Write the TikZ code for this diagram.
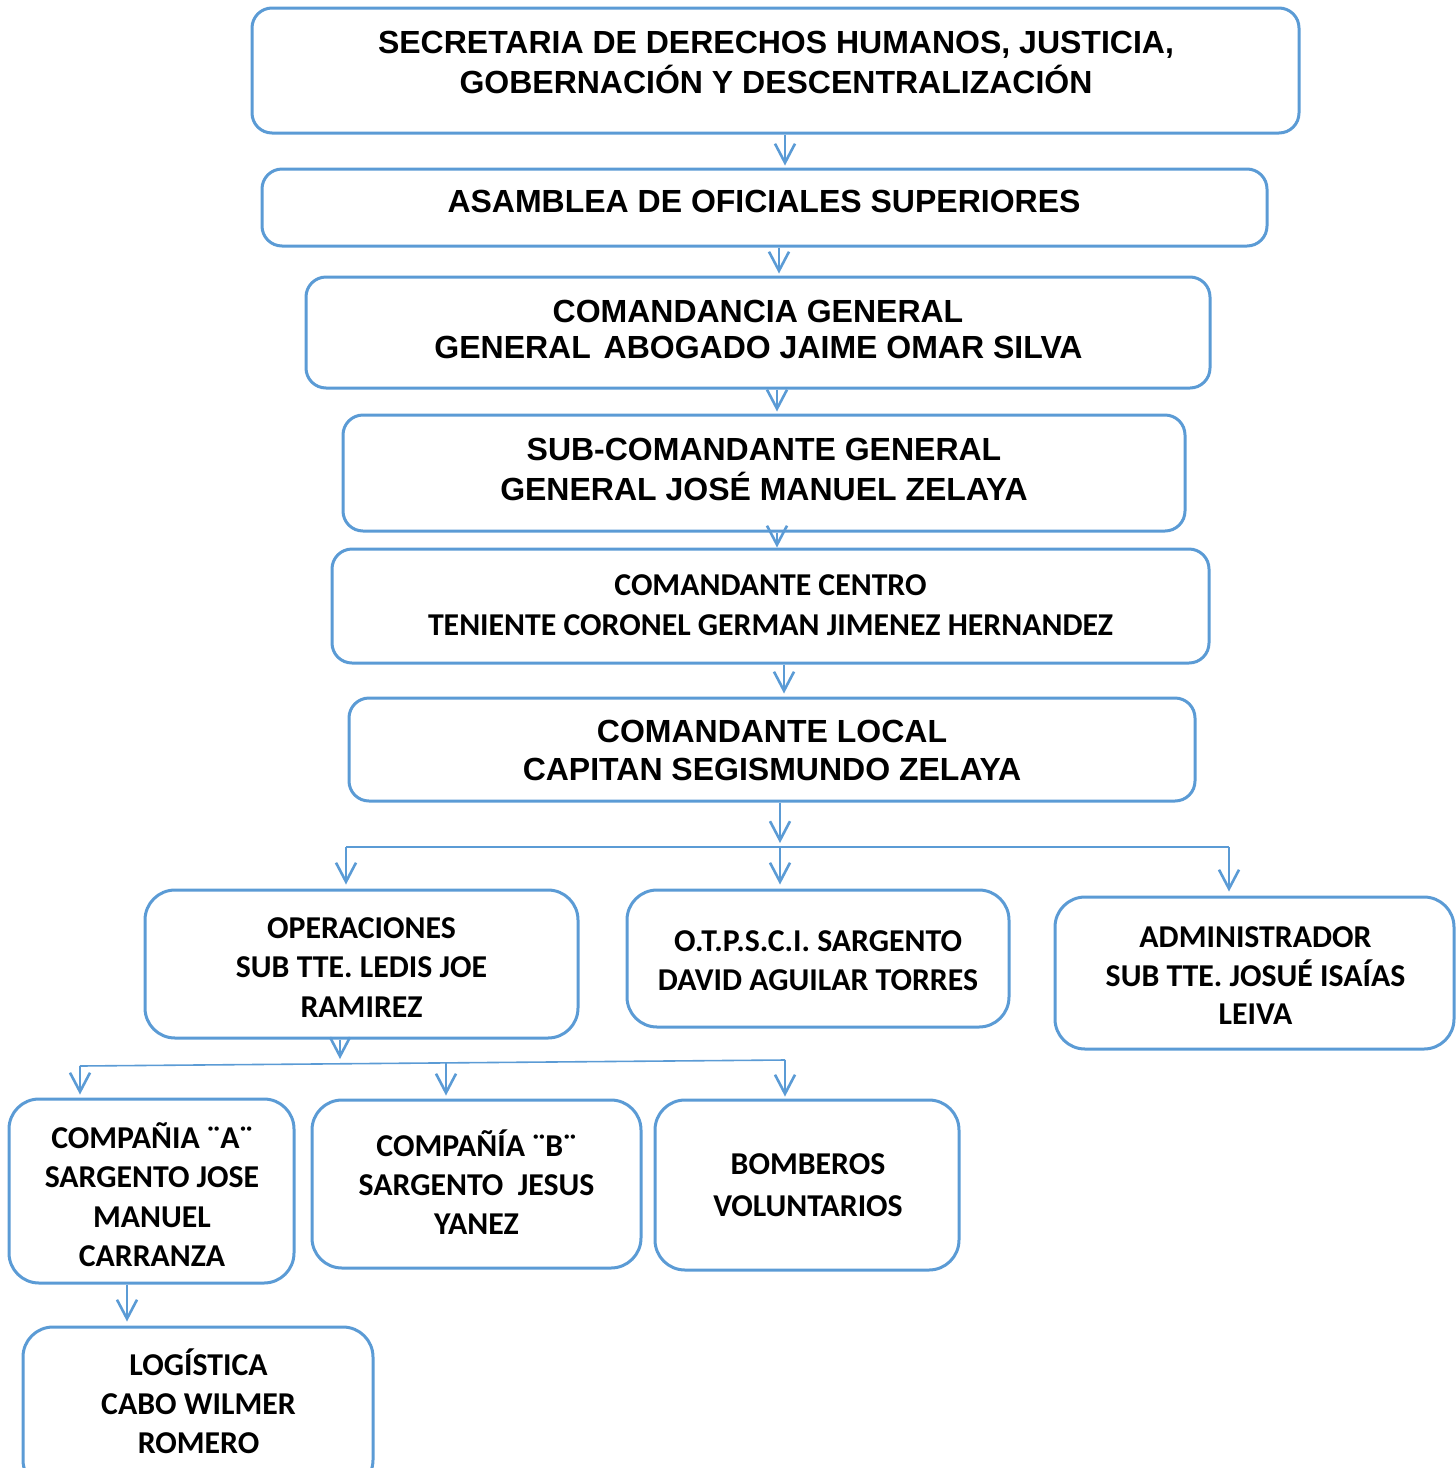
\documentclass[tikz,border=0pt]{standalone}
\usepackage{fontspec}
\setmainfont{Liberation Sans}
\newfontfamily\calfont{Carlito}
\usetikzlibrary{arrows.meta}
\definecolor{bl}{RGB}{91,155,213}
\begin{document}
\begin{tikzpicture}[x=1pt,y=-1pt,
 bx/.style={draw=bl, line width=3pt, rounded corners=20pt, inner sep=0pt, fill=white},
 sb/.style={bx, rounded corners=30pt},
 ar/.style={draw=bl, line width=2.6pt, -{Straight Barb[length=19pt,width=20pt]}},
 hl/.style={draw=bl, line width=1.6pt},
 ta/.style={font=\fontsize{32}{38}\bfseries\selectfont, anchor=base, inner sep=0pt},
 tc/.style={font=\calfont\fontsize{31.8}{38}\bfseries\selectfont, anchor=base, inner sep=0pt}]
\useasboundingbox (0,0) rectangle (1456,1468);
% boxes
\node[bx, minimum width=1047pt, minimum height=125pt] (s1) at (775.5,70.5) {};
\node[bx, minimum width=1005pt, minimum height=77pt] (s2) at (764.5,207.5) {};
\node[bx, minimum width=904pt, minimum height=111pt] (s3) at (758,332.5) {};
\node[bx, minimum width=842pt, minimum height=116pt] (s4) at (764,473) {};
\node[bx, minimum width=877pt, minimum height=114pt] (s5) at (770.5,606) {};
\node[bx, minimum width=846pt, minimum height=103pt] (s6) at (772,749.5) {};
\node[sb, minimum width=433pt, minimum height=148pt] (s7) at (361.5,964) {};
\node[sb, minimum width=382pt, minimum height=137pt] (s8) at (818,958.5) {};
\node[sb, minimum width=399pt, minimum height=152pt] (s9) at (1254.5,973) {};
\node[sb, minimum width=285pt, minimum height=184pt] (s10) at (151.5,1191) {};
\node[sb, minimum width=329pt, minimum height=168pt] (s11) at (476.5,1184) {};
\node[sb, minimum width=304pt, minimum height=170pt] (s12) at (807,1185) {};
\node[sb, minimum width=350pt, minimum height=163pt] (s13) at (198,1408.5) {};
% texts
\node[ta] (t1a) at (776,53) {SECRETARIA DE DERECHOS HUMANOS, JUSTICIA,};
\node[ta] (t1b) at (776,93) {GOBERNACIÓN Y DESCENTRALIZACIÓN};
\node[ta] (t2a) at (764,212) {ASAMBLEA DE OFICIALES SUPERIORES};
\node[ta] (t3a) at (758,322) {COMANDANCIA GENERAL};
\node[ta] (t3b) at (758.5,358) {GENERAL\hspace{4pt} ABOGADO JAIME OMAR SILVA};
\node[ta] (t4a) at (764,460) {SUB-COMANDANTE GENERAL};
\node[ta] (t4b) at (764,500) {GENERAL JOSÉ MANUEL ZELAYA};
\node[tc] (t5a) at (770.5,595) {COMANDANTE CENTRO};
\node[tc] (t5b) at (770.5,635) {TENIENTE CORONEL GERMAN JIMENEZ HERNANDEZ};
\node[ta] (t6a) at (772,742) {COMANDANTE LOCAL};
\node[ta] (t6b) at (772,780) {CAPITAN SEGISMUNDO ZELAYA};
\node[tc] (t7a) at (361.5,938) {OPERACIONES};
\node[tc] (t7b) at (361.5,977) {SUB TTE. LEDIS JOE};
\node[tc] (t7c) at (361.5,1017) {RAMIREZ};
\node[tc] (t8a) at (818,951) {O.T.P.S.C.I. SARGENTO};
\node[tc] (t8b) at (818,990) {DAVID AGUILAR TORRES};
\node[tc] (t9a) at (1255.5,947) {ADMINISTRADOR};
\node[tc] (t9b) at (1255.5,986) {SUB TTE. JOSUÉ ISAÍAS};
\node[tc] (t9c) at (1255.5,1024) {LEIVA};
\node[tc] (t10a) at (152,1148) {COMPAÑIA ¨A¨};
\node[tc] (t10b) at (152,1187) {SARGENTO JOSE};
\node[tc] (t10c) at (152,1227) {MANUEL};
\node[tc] (t10d) at (152,1266) {CARRANZA};
\node[tc] (t11a) at (476.5,1156) {COMPAÑÍA ¨B¨};
\node[tc] (t11b) at (476.5,1195) {SARGENTO~~JESUS};
\node[tc] (t11c) at (476.5,1234) {YANEZ};
\node[tc] (t12a) at (808,1174) {BOMBEROS};
\node[tc] (t12b) at (808,1216) {VOLUNTARIOS};
\node[tc] (t13a) at (198.5,1375) {LOGÍSTICA};
\node[tc] (t13b) at (198.5,1414) {CABO WILMER};
\node[tc] (t13c) at (198.5,1453) {ROMERO};
% connector x positions
\coordinate (x1) at (785,0);
\coordinate (x2) at (779,0);
\coordinate (x3) at (777,0);
\coordinate (x5) at (784,0);
\coordinate (j1) at (780,847);
\coordinate (jl) at (346,847);
\coordinate (jr) at (1229,847);
\coordinate (x7) at (340,0);
\coordinate (j2) at (340,1064);
\coordinate (kl) at (80,1066);
\coordinate (km) at (446,1063);
\coordinate (kr) at (785,1060);
\coordinate (x10) at (127,0);
% connectors
\draw[ar] (s1.south -| x1) -- ([yshift=2pt]s2.north -| x1);
\draw[ar] (s2.south -| x2) -- ([yshift=2pt]s3.north -| x2);
\draw[ar] (s3.south -| x3) -- ([yshift=2pt]s4.north -| x3);
\draw[ar] (s4.south -| x3) -- (s5.north -| x3);
\draw[ar] (s5.south -| x5) -- ([yshift=3pt]s6.north -| x5);
\draw[ar] (s6.south -| j1) -- ([yshift=4pt]j1);
\draw[hl] (jl) -- (jr);
\draw[ar] (jl) -- ([yshift=4pt]s7.north -| jl);
\draw[ar] (j1) -- ([yshift=4pt]s8.north -| j1);
\draw[ar] (jr) -- ([yshift=4pt]s9.north -| jr);
\draw[ar] (s7.south -| x7) -- ([yshift=5pt]j2);
\draw[hl] (kl) -- (kr);
\draw[ar] (kl) -- ([yshift=3pt]s10.north -| kl);
\draw[ar] (km) -- ([yshift=3pt]s11.north -| km);
\draw[ar] (kr) -- ([yshift=2pt]s12.north -| kr);
\draw[ar] (s10.south -| x10) -- ([yshift=4pt]s13.north -| x10);
\end{tikzpicture}
\end{document}
